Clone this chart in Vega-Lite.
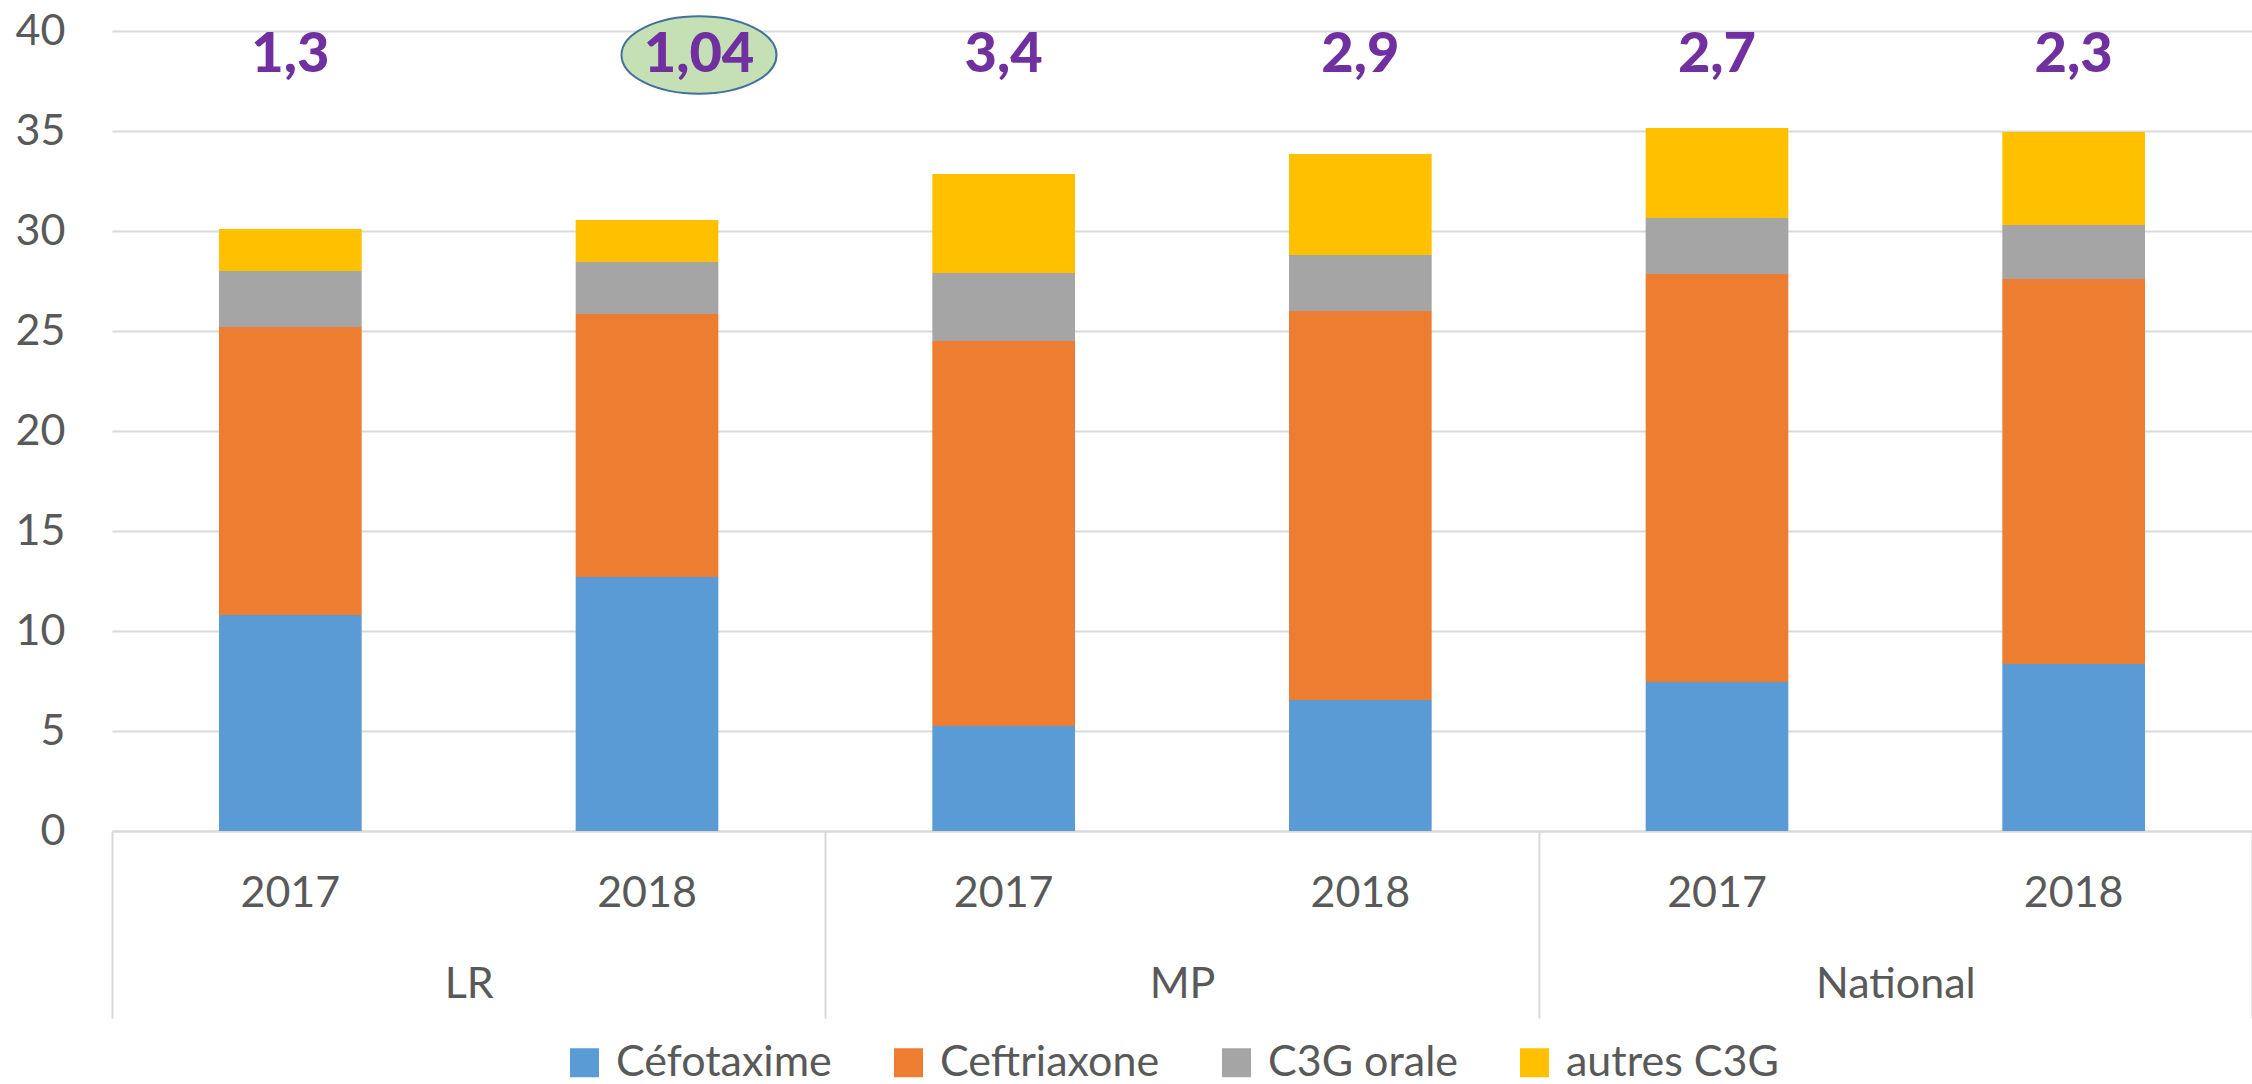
{
  "$schema": "https://vega.github.io/schema/vega-lite/v6.json",
  "width": 2140,
  "height": 800,
  "autosize": {"type": "none"},
  "padding": {"left": 112, "top": 31, "right": 0, "bottom": 253},
  "background": "white",
  "config": {"view": {"stroke": null}, "font": "Lato"},
  "datasets": {
    "bars": [
      {"key": "LR 2017", "drug": "Céfotaxime", "k": 1, "value": 10.8},
      {"key": "LR 2017", "drug": "Ceftriaxone", "k": 2, "value": 14.4},
      {"key": "LR 2017", "drug": "C3G orale", "k": 3, "value": 2.8},
      {"key": "LR 2017", "drug": "autres C3G", "k": 4, "value": 2.1},
      {"key": "LR 2018", "drug": "Céfotaxime", "k": 1, "value": 12.7},
      {"key": "LR 2018", "drug": "Ceftriaxone", "k": 2, "value": 13.15},
      {"key": "LR 2018", "drug": "C3G orale", "k": 3, "value": 2.6},
      {"key": "LR 2018", "drug": "autres C3G", "k": 4, "value": 2.1},
      {"key": "MP 2017", "drug": "Céfotaxime", "k": 1, "value": 5.25},
      {"key": "MP 2017", "drug": "Ceftriaxone", "k": 2, "value": 19.25},
      {"key": "MP 2017", "drug": "C3G orale", "k": 3, "value": 3.4},
      {"key": "MP 2017", "drug": "autres C3G", "k": 4, "value": 4.95},
      {"key": "MP 2018", "drug": "Céfotaxime", "k": 1, "value": 6.55},
      {"key": "MP 2018", "drug": "Ceftriaxone", "k": 2, "value": 19.45},
      {"key": "MP 2018", "drug": "C3G orale", "k": 3, "value": 2.8},
      {"key": "MP 2018", "drug": "autres C3G", "k": 4, "value": 5.05},
      {"key": "National 2017", "drug": "Céfotaxime", "k": 1, "value": 7.45},
      {"key": "National 2017", "drug": "Ceftriaxone", "k": 2, "value": 20.4},
      {"key": "National 2017", "drug": "C3G orale", "k": 3, "value": 2.8},
      {"key": "National 2017", "drug": "autres C3G", "k": 4, "value": 4.5},
      {"key": "National 2018", "drug": "Céfotaxime", "k": 1, "value": 8.35},
      {"key": "National 2018", "drug": "Ceftriaxone", "k": 2, "value": 19.25},
      {"key": "National 2018", "drug": "C3G orale", "k": 3, "value": 2.7},
      {"key": "National 2018", "drug": "autres C3G", "k": 4, "value": 4.65}
    ],
    "labels": [
      {"key": "LR 2017", "label": "1,3", "highlight": false},
      {"key": "LR 2018", "label": "1,04", "highlight": true},
      {"key": "MP 2017", "label": "3,4", "highlight": false},
      {"key": "MP 2018", "label": "2,9", "highlight": false},
      {"key": "National 2017", "label": "2,7", "highlight": false},
      {"key": "National 2018", "label": "2,3", "highlight": false}
    ],
    "groups": [
      {"group": "LR"},
      {"group": "MP"},
      {"group": "National"}
    ]
  },
  "layer": [
    {
      "layer": [
        {
          "data": {"name": "bars"},
          "mark": {"type": "bar"},
          "encoding": {
            "x": {
              "field": "key", "type": "nominal", "sort": null,
              "scale": {"paddingInner": 0.6, "paddingOuter": 0.3},
              "axis": {
                "title": null, "labelExpr": "split(datum.label, ' ')[1]",
                "ticks": false, "domain": true, "domainColor": "#D9D9D9", "domainWidth": 2,
                "labelAngle": 0, "labelPadding": 62, "labelBaseline": "middle",
                "labelFontSize": 43, "labelColor": "#595959", "grid": false
              }
            },
            "y": {
              "field": "value", "type": "quantitative", "stack": "zero",
              "scale": {"domain": [0, 40], "nice": false},
              "axis": {
                "title": null, "values": [0, 5, 10, 15, 20, 25, 30, 35, 40],
                "domain": false, "ticks": false, "labelPadding": 47,
                "labelFontSize": 43, "labelColor": "#595959",
                "gridColor": "#D9D9D9", "gridWidth": 2
              }
            },
            "color": {
              "field": "drug", "type": "nominal",
              "scale": {
                "domain": ["Céfotaxime", "Ceftriaxone", "C3G orale", "autres C3G"],
                "range": ["#5B9BD5", "#ED7D31", "#A5A5A5", "#FFC000"]
              },
              "legend": {
                "orient": "none", "legendX": 451, "legendY": 1010,
                "direction": "horizontal", "title": null,
                "symbolType": "square", "symbolSize": 841, "symbolStrokeWidth": 0,
                "labelFontSize": 43, "labelColor": "#595959", "labelLimit": 600,
                "columnPadding": 55, "labelOffset": 10, "padding": 0
              }
            },
            "order": {"field": "k", "type": "quantitative"}
          }
        },
        {
          "data": {"name": "labels"},
          "transform": [{"filter": "datum.highlight"}],
          "mark": {
            "type": "point", "shape": "M-1,0A1,0.5,0,1,1,1,0A1,0.5,0,1,1,-1,0Z",
            "size": 24025, "filled": true, "fill": "#C5E0B4", "stroke": "#41719C",
            "strokeWidth": 2, "opacity": 1, "xOffset": 52
          },
          "encoding": {
            "x": {"field": "key", "type": "nominal", "sort": null},
            "y": {"datum": 38.8, "type": "quantitative"}
          }
        },
        {
          "data": {"name": "labels"},
          "transform": [{"filter": "!datum.highlight"}],
          "mark": {
            "type": "text", "fontSize": 56, "fontWeight": 900, "color": "#7030A0",
            "baseline": "middle", "align": "center"
          },
          "encoding": {
            "x": {"field": "key", "type": "nominal", "sort": null},
            "y": {"datum": 38.8, "type": "quantitative"},
            "text": {"field": "label"}
          }
        },
        {
          "data": {"name": "labels"},
          "transform": [{"filter": "datum.highlight"}],
          "mark": {
            "type": "text", "fontSize": 56, "fontWeight": 900, "color": "#7030A0",
            "baseline": "middle", "align": "center", "dx": 52
          },
          "encoding": {
            "x": {"field": "key", "type": "nominal", "sort": null},
            "y": {"datum": 38.8, "type": "quantitative"},
            "text": {"field": "label"}
          }
        }
      ]
    },
    {
      "data": {"name": "groups"},
      "mark": {"type": "bar", "opacity": 0},
      "encoding": {
        "x": {
          "field": "group", "type": "nominal", "sort": null,
          "scale": {"type": "band", "paddingInner": 0, "paddingOuter": 0},
          "axis": {
            "orient": "bottom", "title": null, "domain": false, "grid": false,
            "ticks": true, "tickBand": "extent", "tickSize": 187,
            "tickColor": "#D9D9D9", "tickWidth": 2, "labelAngle": 0,
            "labelPadding": -34, "labelBaseline": "middle",
            "labelFontSize": 43, "labelColor": "#595959"
          }
        }
      }
    }
  ],
  "resolve": {"scale": {"x": "independent"}, "axis": {"x": "independent"}}
}
